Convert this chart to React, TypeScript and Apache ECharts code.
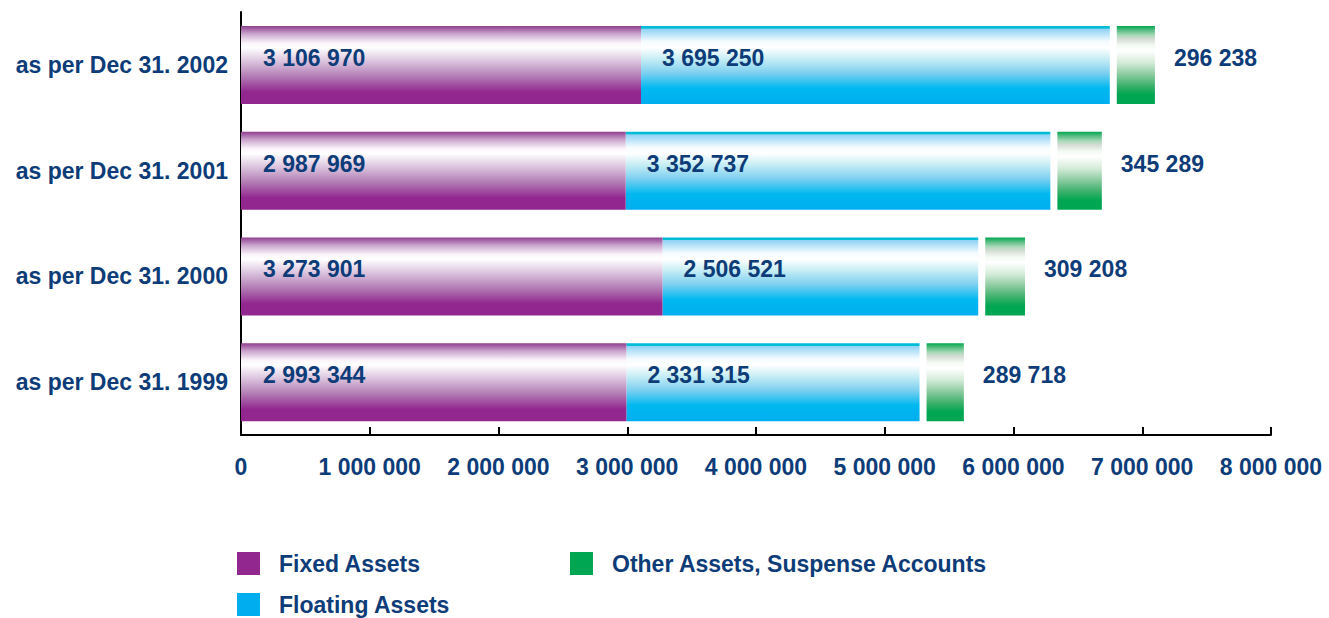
import React, { useEffect, useRef } from "react";
import * as echarts from "echarts";

const categories = [
  "as per Dec 31. 2002",
  "as per Dec 31. 2001",
  "as per Dec 31. 2000",
  "as per Dec 31. 1999",
];
const fixedAssets = [3106970, 2987969, 3273901, 2993344];
const floatingAssets = [3695250, 3352737, 2506521, 2331315];
const otherAssets = [296238, 345289, 309208, 289718];
const xTicks = [0, 1000000, 2000000, 3000000, 4000000, 5000000, 6000000, 7000000, 8000000];

const TEXT = "#0d3c78";
const FONT = "Liberation Sans";
const BAR_W = 78;
const GAP = 7;

const fmt = (n: number) => String(n).replace(/\B(?=(\d{3})+(?!\d))/g, " ");

const purpleGrad = () =>
  new echarts.graphic.LinearGradient(0, 0, 0, 1, [
    { offset: 0, color: "#8e3d8f" },
    { offset: 0.1, color: "#c9a3cc" },
    { offset: 0.22, color: "#fbf5fb" },
    { offset: 0.28, color: "#ffffff" },
    { offset: 0.45, color: "#dcc5df" },
    { offset: 0.65, color: "#b27cb4" },
    { offset: 0.85, color: "#92278f" },
    { offset: 1, color: "#92278f" },
  ]);
const cyanGrad = () =>
  new echarts.graphic.LinearGradient(0, 0, 0, 1, [
    { offset: 0, color: "#00bcd4" },
    { offset: 0.03, color: "#00bcd4" },
    { offset: 0.04, color: "#8fd3f5" },
    { offset: 0.2, color: "#f4fbff" },
    { offset: 0.28, color: "#ffffff" },
    { offset: 0.42, color: "#c8eef5" },
    { offset: 0.6, color: "#7fd0f0" },
    { offset: 0.8, color: "#00b8f0" },
    { offset: 1, color: "#00aeef" },
  ]);
const greenGrad = () =>
  new echarts.graphic.LinearGradient(0, 0, 0, 1, [
    { offset: 0, color: "#00a651" },
    { offset: 0.06, color: "#5cbf85" },
    { offset: 0.12, color: "#a9d9b8" },
    { offset: 0.17, color: "#d4dcd4" },
    { offset: 0.25, color: "#f3faf3" },
    { offset: 0.32, color: "#ffffff" },
    { offset: 0.47, color: "#d5ecd9" },
    { offset: 0.62, color: "#8ccba0" },
    { offset: 0.77, color: "#3bb06b" },
    { offset: 0.88, color: "#00a651" },
    { offset: 1, color: "#00a651" },
  ]);

const labelBase = {
  color: TEXT,
  fontFamily: FONT,
  fontWeight: "bold" as const,
  fontSize: 23,
};

const legendItem = (name: string, color: string, left: number, top: number) => ({
  orient: "vertical",
  left,
  top,
  padding: 0,
  itemWidth: 23,
  itemHeight: 23,
  icon: "rect",
  selectedMode: false,
  textStyle: { ...labelBase, padding: [0, 0, 0, 14] },
  data: [{ name, itemStyle: { color } }],
});

export default function App() {
  const ref = useRef<HTMLDivElement>(null);
  useEffect(() => {
    if (!ref.current) return;
    const chart = echarts.init(ref.current, null, { renderer: "svg" });
    chart.setOption({
      animation: false,
      grid: { left: 241, right: 58, top: 12, bottom: 183, containLabel: false },
      xAxis: {
        type: "value",
        min: 0,
        max: 8000000,
        interval: 1000000,
        splitLine: { show: false },
        axisLine: { show: true, lineStyle: { color: "#000", width: 2 } },
        axisTick: { show: true, inside: true, length: 8, lineStyle: { color: "#000", width: 2 } },
        axisLabel: {
          ...labelBase,
          margin: 20,
          formatter: (v: number) => (xTicks.includes(v) ? fmt(v) : ""),
        },
      },
      yAxis: {
        type: "category",
        data: categories,
        inverse: true,
        axisLine: { show: true, lineStyle: { color: "#000", width: 2 } },
        axisTick: { show: false },
        axisLabel: { ...labelBase, margin: 13 },
      },
      legend: [
        legendItem("Fixed Assets", "#92278f", 237, 552),
        legendItem("Floating Assets", "#00aeef", 237, 593),
        legendItem("Other Assets, Suspense Accounts", "#00a651", 570, 552),
      ],
      series: [
        {
          type: "custom",
          name: "floatingVisual",
          z: 1,
          silent: true,
          encode: { x: [1, 2], y: 0 },
          data: categories.map((_, i) => [i, fixedAssets[i], fixedAssets[i] + floatingAssets[i]]),
          renderItem: (_params: any, api: any) => {
            const cat = api.value(0);
            const p0 = api.coord([api.value(1), cat]);
            const p1 = api.coord([api.value(2), cat]);
            return {
              type: "rect",
              shape: {
                x: p0[0],
                y: p0[1] - BAR_W / 2,
                width: Math.max(0, p1[0] - p0[0] - GAP),
                height: BAR_W,
              },
              style: { fill: cyanGrad() },
            };
          },
        },
        {
          type: "bar",
          name: "Fixed Assets",
          stack: "total",
          barWidth: BAR_W,
          silent: true,
          data: fixedAssets,
          itemStyle: { color: purpleGrad() },
          label: {
            show: true,
            position: "insideLeft",
            distance: 22,
            offset: [0, -7],
            ...labelBase,
            formatter: (p: any) => fmt(p.value),
          },
        },
        {
          type: "bar",
          name: "Floating Assets",
          stack: "total",
          barWidth: BAR_W,
          silent: true,
          data: floatingAssets,
          itemStyle: { color: "rgba(0,0,0,0)" },
          label: {
            show: true,
            position: "insideLeft",
            distance: 21,
            offset: [0, -7],
            ...labelBase,
            formatter: (p: any) => fmt(p.value),
          },
        },
        {
          type: "bar",
          name: "Other Assets, Suspense Accounts",
          stack: "total",
          barWidth: BAR_W,
          silent: true,
          data: otherAssets,
          itemStyle: { color: greenGrad() },
          label: {
            show: true,
            position: "right",
            distance: 19,
            offset: [0, -7],
            ...labelBase,
            formatter: (p: any) => fmt(p.value),
          },
        },
      ],
    });
    return () => chart.dispose();
  }, []);
  return (
    <div
      ref={ref}
      style={{ position: "fixed", left: 0, top: 0, width: 1329, height: 618, background: "#fff" }}
    />
  );
}
